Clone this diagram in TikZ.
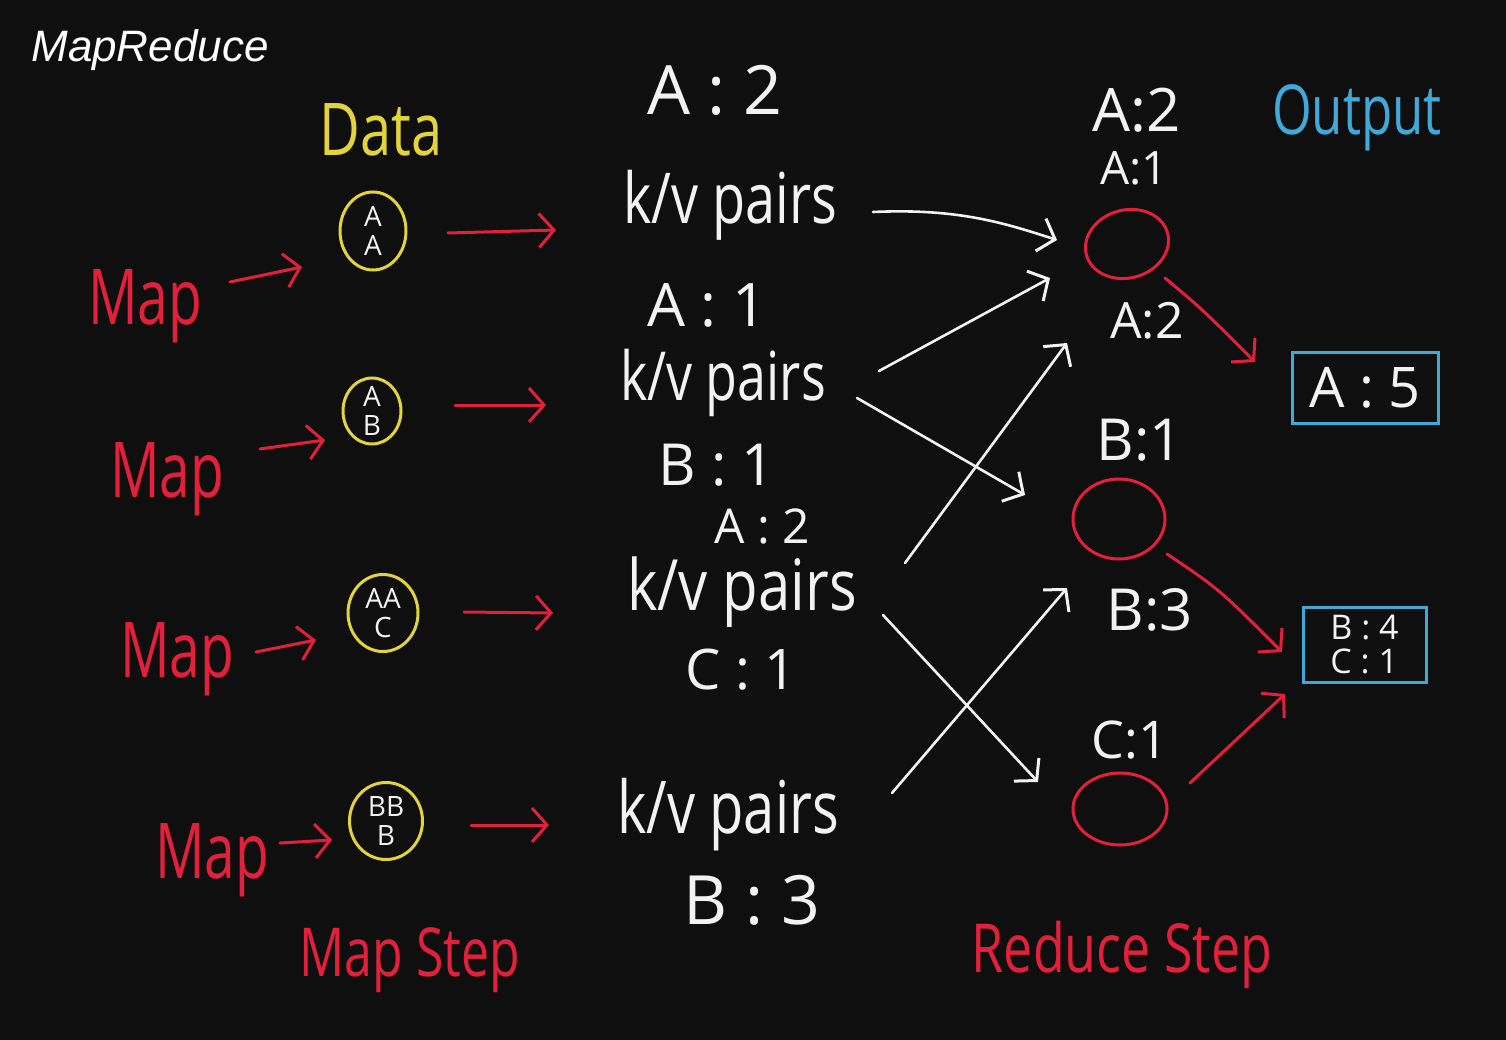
\documentclass[tikz,border=0pt]{standalone}
\usepackage{fontspec}
\usepackage{graphicx}
\setmainfont{Open Sans}
\newfontfamily\titlefont{Liberation Sans}
\usetikzlibrary{arrows.meta,shapes.geometric,calc}
\definecolor{bgc}{HTML}{0F0F0F}
\definecolor{redc}{HTML}{E3203C}
\definecolor{yelc}{HTML}{E2D43A}
\definecolor{cyanc}{HTML}{3FA9D9}
\definecolor{whc}{HTML}{F2F2F2}
\newcommand\fsz[1]{\fontsize{#1}{#1}\selectfont}
\newcommand\tallby[2]{\scalebox{1}[#1]{#2}}
\tikzset{
  hand/.style={text=#1, inner sep=0pt},
  barb/.style={line width=3pt, line cap=round, line join=round,
    -{Straight Barb[length=15pt,width=34pt,line width=3pt]}},
  redarr/.style={barb, draw=redc},
  wharr/.style={barb, draw=whc, line width=2.6pt},
  datac/.style={ellipse, draw=yelc, line width=3pt, inner sep=-16pt, text=whc,
    font=\fontsize{28}{29}\selectfont, align=center},
  redell/.style={ellipse, draw=redc, line width=3pt, inner sep=0pt},
  outbox/.style={rectangle, draw=cyanc, line width=3pt, inner sep=0pt, text=whc}
}
\begin{document}
\begin{tikzpicture}[x=1pt,y=-1pt]
\fill[bgc] (0,0) rectangle (1506,1040);
\useasboundingbox (0,0) rectangle (1506,1040);

% title
\node[hand=white, font=\titlefont\itshape\fsz{44}] (title) at (150,50) {MapReduce};
\node[hand=yelc, font=\fsz{56}] (data) at (381,130) {\tallby{1.3}{Data}};
\node[hand=cyanc, font=\fsz{51}] (output) at (1357,118) {\tallby{1.35}{Output}};

% data circles
\node[datac, minimum width=66pt, minimum height=78pt] (d1) at (373,231) {A\\A};
\node[datac, minimum width=58pt, minimum height=66pt] (d2) at (372,411) {A\\B};
\node[datac, minimum width=70pt, minimum height=77pt] (d3) at (383,613) {AA\\C};
\node[datac, minimum width=73pt, minimum height=77pt] (d4) at (386,821) {BB\\B};

% Map labels
\node[hand=redc, font=\fsz{55}, anchor=base west] (map1) at (88,325) {\tallby{1.4}{Map}};
\node[hand=redc, font=\fsz{55}, anchor=base west] (map2) at (110,497) {\tallby{1.4}{Map}};
\node[hand=redc, font=\fsz{55}, anchor=base west] (map3) at (120,677) {\tallby{1.4}{Map}};
\node[hand=redc, font=\fsz{55}, anchor=base west] (map4) at (155,878) {\tallby{1.4}{Map}};

% k/v pairs
\node[hand=whc, font=\fsz{54}] (kv1) at (730,205) {\tallby{1.3}{k/v pairs}};
\node[hand=whc, font=\fsz{52}] (kv2) at (723,383) {\tallby{1.3}{k/v pairs}};
\node[hand=whc, font=\fsz{58}] (kv3) at (742,592) {\tallby{1.22}{k/v pairs}};
\node[hand=whc, font=\fsz{56}] (kv4) at (728,815) {\tallby{1.3}{k/v pairs}};

% kv labels
\node[hand=whc, font=\fsz{68}] (l1) at (715,90) {A : 2};
\node[hand=whc, font=\fsz{60}] (l2) at (707,305) {A : 1};
\node[hand=whc, font=\fsz{58}] (l3) at (717,465) {B : 1};
\node[hand=whc, font=\fsz{48}] (l4) at (762,526) {A : 2};
\node[hand=whc, font=\fsz{56}] (l5) at (741,670) {C : 1};
\node[hand=whc, font=\fsz{68}] (l6) at (752,900) {B : 3};

% reducers
\node[redell, minimum width=84pt, minimum height=68pt, rotate=15] (r1) at (1127,244) {};
\node[redell, minimum width=92pt, minimum height=80pt] (r2) at (1119,519) {};
\node[redell, minimum width=94pt, minimum height=72pt] (r3) at (1120,809) {};

% reducer labels
\node[hand=whc, font=\fsz{60}] (q1) at (1137,110) {A:2};
\node[hand=whc, font=\fsz{46}] (q2) at (1134,168) {A:1};
\node[hand=whc, font=\fsz{50}] (q3) at (1147,321) {A:2};
\node[hand=whc, font=\fsz{58}] (q4) at (1140,440) {B:1};
\node[hand=whc, font=\fsz{58}] (q5) at (1150,610) {B:3};
\node[hand=whc, font=\fsz{52}] (q6) at (1130,740) {C:1};

% outputs
\node[outbox, minimum width=146pt, minimum height=71pt, font=\fsz{56}] (o1) at (1365,387.5) {A : 5};
\node[outbox, minimum width=123pt, minimum height=75pt, font=\fontsize{34}{34}\selectfont, align=left] (o2) at (1364.5,644.5) {B : 4\\C : 1};

% bottom labels
\node[hand=redc, font=\fsz{50}] (mstep) at (410,960) {\tallby{1.35}{Map Step}};
\node[hand=redc, font=\fsz{52}] (rstep) at (1122,955) {\tallby{1.3}{Reduce Step}};

% Map -> data arrows
\draw[redarr] ($(map1.base west)+(142,-43)$) -- ($(d1)+(-71,36)$);
\draw[redarr] ($(map2.base west)+(150,-48)$) -- ($(d2)+(-47,29)$);
\draw[redarr] ($(map3.base west)+(136,-25)$) -- ($(d3)+(-67,27)$);
\draw[redarr] ($(map4.base west)+(125,-35)$) -- ($(d4)+(-54,19)$);

% data -> kv arrows
\draw[redarr] ($(d1)+(75,2)$) -- ($(kv1)+(-174,25)$);
\draw[redarr] ($(d2)+(83,-6)$) -- ($(kv2)+(-177,22)$);
\draw[redarr] ($(d3)+(81,-1)$) -- ($(kv3)+(-189,21)$);
\draw[redarr] ($(d4)+(85,4)$) -- ($(kv4)+(-179,10)$);

% kv -> reducers (white)
\draw[wharr] ($(kv1)+(143,7)$) .. controls ($(kv1)+(230,3)$) and ($(r1)+(-120,-20)$) .. ($(r1)+(-70,-4)$);
\draw[wharr] ($(kv2)+(156,-12)$) -- ($(r1)+(-77,34)$);
\draw[wharr] ($(kv3)+(163,-29)$) -- ($(r1)+(-60,99)$);
\draw[wharr] ($(kv2)+(134,15)$) -- ($(r2)+(-94,-24)$);
\draw[wharr] ($(kv3)+(141,23)$) -- ($(r3)+(-82,-27)$);
\draw[wharr] ($(kv4)+(164,-22)$) -- ($(r2)+(-52,69)$);

% reducers -> outputs
\draw[redarr] ($(r1)+(38,34)$) .. controls ($(r1)+(75,65)$) .. ($(o1)+(-110,-25.5)$);
\draw[redarr] ($(r2)+(48,35)$) .. controls ($(r2)+(100,70)$) .. ($(o2)+(-82.5,7.5)$);
\draw[redarr] ($(r3)+(70,-26)$) -- ($(o2)+(-79.5,49.5)$);
\end{tikzpicture}
\end{document}
